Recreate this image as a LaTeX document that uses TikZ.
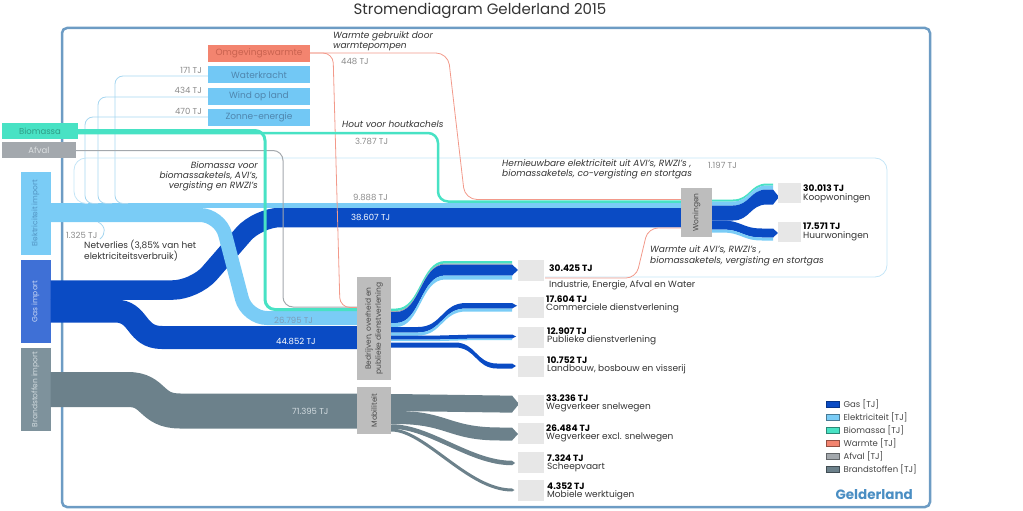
\documentclass[tikz,border=0pt]{standalone}
\usepackage{fontspec}
\setmainfont{Poppins}
\usetikzlibrary{positioning}

\definecolor{gascol}{HTML}{0A4BC4}
\definecolor{gasbox}{HTML}{3F70D6}
\definecolor{gastext}{HTML}{C9D7F4}
\definecolor{eleccol}{HTML}{7ACCF6}
\definecolor{electext}{HTML}{5193C2}
\definecolor{renewcol}{HTML}{72C8F5}
\definecolor{renewtext}{HTML}{4F86AE}
\definecolor{renewline}{HTML}{A6D6F0}
\definecolor{hernieuwline}{HTML}{C4E5F7}
\definecolor{biocol}{HTML}{48E2C4}
\definecolor{biotext}{HTML}{2F9C86}
\definecolor{warmcol}{HTML}{F3846F}
\definecolor{warmtext}{HTML}{C9624F}
\definecolor{warmline}{HTML}{F2998A}
\definecolor{afvalcol}{HTML}{A3A8AD}
\definecolor{afvaltext}{HTML}{DDE0E2}
\definecolor{fuelcol}{HTML}{6C818B}
\definecolor{fuelbox}{HTML}{7E929C}
\definecolor{fueltext}{HTML}{D3DCE0}
\definecolor{nodegray}{HTML}{BDBDBD}
\definecolor{midtextcol}{HTML}{4A4A4A}
\definecolor{sectorgray}{HTML}{E7E7E7}
\definecolor{framecol}{HTML}{6D9CC4}
\definecolor{tjgray}{HTML}{8A8A8A}
\definecolor{tjblue}{HTML}{7C9DB8}
\definecolor{textdark}{HTML}{333333}
\definecolor{legcol}{HTML}{444444}
\definecolor{regiocol}{HTML}{4A8EC3}

\newcommand{\flowband}[9]{%
  \fill[#1] (#2,#6) -- (#3,#6) .. controls ({(#3+#4)/2},#6) and ({(#3+#4)/2},#8) .. (#4,#8) -- (#5,#8)
    -- (#5,#9) -- (#4,#9) .. controls ({(#3+#4)/2},#9) and ({(#3+#4)/2},#7) .. (#3,#7) -- (#2,#7) -- cycle;}
\newcommand{\flowtip}[5]{%
  \fill[#1] (#2,#3) -- ({#2+#5},{(#3+#4)/2}) -- (#2,#4) -- cycle;}

\begin{document}
\begin{tikzpicture}[x=1pt, y=-1pt,
	every node/.style={inner sep=0pt, font=\fontsize{8.5}{10}\selectfont},
	srcbox/.style={rectangle, minimum height=16pt},
	importbox/.style={rectangle, minimum width=30pt, minimum height=83pt},
	importtext/.style={rotate=90, font=\fontsize{7.5}{9}\selectfont},
	renewbox/.style={rectangle, fill=renewcol, text=renewtext, minimum width=102pt, minimum height=17pt, font=\fontsize{9}{10}\selectfont},
	midbox/.style={rectangle, fill=nodegray},
	midtext/.style={rotate=90, text=midtextcol, align=center, font=\fontsize{7.5}{10}\selectfont},
	sectorbox/.style={rectangle, fill=sectorgray, minimum width=26pt, minimum height=21pt},
	woonbox/.style={rectangle, fill=sectorgray, minimum width=23pt, minimum height=20pt},
	tj/.style={text=tjgray},
	note/.style={text=textdark, font=\fontsize{9}{10}\selectfont\itshape, align=left},
	val/.style={anchor=west, text=black, font=\fontsize{9}{10}\selectfont\bfseries, text height=6.5pt, text depth=0pt},
	sectlabel/.style={anchor=west, text=textdark, font=\fontsize{9}{10}\selectfont, text height=6.5pt, text depth=2pt},
	legbox/.style={rectangle, minimum width=13pt, minimum height=6pt, line width=0.8pt},
	legtext/.style={anchor=west, text=legcol, font=\fontsize{8.5}{10}\selectfont},
	gasflow/.style={draw=gascol},
	elecflow/.style={draw=eleccol},
	bioflow/.style={draw=biocol},
	warmflow/.style={draw=warmline, line width=0.8pt},
	afvalflow/.style={draw=afvalcol, line width=1pt},
	fuelflow/.style={draw=fuelcol},
	renewflow/.style={draw=renewline, line width=0.8pt}]

	\useasboundingbox (0,0) rectangle (1023,511);
	\node[font=\fontsize{15}{17}\selectfont, text=textdark] (title) at (480,11) {Stromendiagram Gelderland 2015};
	\draw[framecol, line width=2.5pt, rounded corners=5pt] (62,28) rectangle (930,507);

	\node[srcbox, fill=biocol, text=biotext, minimum width=76pt] (biomassa) at (40,131) {Biomassa};
	\node[srcbox, fill=afvalcol, text=afvaltext, minimum width=74pt] (afval) at (39,150) {Afval};
	\node[importbox, fill=eleccol] (elekimport) at (35.5,213.5) {};
	\node[importtext, text=electext] (elekimporttxt) at (elekimport) {Elektriciteit import};
	\node[importbox, fill=gasbox] (gasimport) at (35.5,301.5) {};
	\node[importtext, text=gastext] (gasimporttxt) at (gasimport) {Gas import};
	\node[importbox, fill=fuelbox] (brandimport) at (35.5,389.5) {};
	\node[importtext, text=fueltext] (brandimporttxt) at (brandimport) {Brandstoffen import};

	\node[renewbox, fill=warmcol, text=warmtext] (omgeving) at (259,53.5) {Omgevingswarmte};
	\node[renewbox] (waterkracht) at (259,75) {Waterkracht};
	\node[renewbox] (windopland) at (259,96.5) {Wind op land};
	\node[renewbox] (zonne) at (259,117.5) {Zonne-energie};
	\node[tj, anchor=east] (tjwater) at (202,70) {171 TJ};
	\node[tj, anchor=east] (tjwind) at (202,90.5) {434 TJ};
	\node[tj, anchor=east] (tjzon) at (202,111.5) {470 TJ};

	\node[midbox, minimum width=31pt, minimum height=49pt] (woningen) at (696.5,212.5) {};
	\node[midbox, minimum width=34pt, minimum height=103pt] (bedrijven) at (374,328.5) {};
	\node[midbox, minimum width=34pt, minimum height=47pt] (mobiliteit) at (374,410.5) {};

	\draw[gasflow, line width=19.5pt, rounded corners=22pt] (gasimport.east |- 0,290) -- (195,290) -- (258,217.5) -- (woningen.west |- 0,217.5);
	\draw[gasflow, line width=23pt] (gasimport.east |- 0,311) -- (115,311) .. controls (140,311) and (135,337.5) .. (162,337.5) -- (bedrijven.west |- 0,337.5);
	\draw[elecflow, line width=14pt, rounded corners=20pt] (elekimport.east |- 0,215) -- (220,215) -- (247,318) -- (bedrijven.west |- 0,318);
	\draw[elecflow, line width=5.5pt] (elekimport.east |- 0,205.5) -- (woningen.west |- 0,205.5);
	\draw[fuelflow, line width=35pt] (brandimport.east |- 0,389.5) -- (128,389.5) .. controls (155,389.5) and (150,411) .. (180,411) -- (mobiliteit.west |- 0,411);

	\draw[renewflow, rounded corners=8pt] (waterkracht.west |- 0,76) -- (115,76) -- (115,203.5) -- (128,203.5);
	\draw[renewflow, rounded corners=8pt] (windopland.west |- 0,97) -- (98,97) -- (98,203.5) -- (112,203.5);
	\draw[renewflow, rounded corners=8pt] (zonne.west |- 0,117) -- (85,117) -- (85,203.5) -- (98,203.5);
	\draw[renewflow, draw=hernieuwline, rounded corners=12pt] (545,277) -- (887,277) -- (887,158) -- (74,158) -- (74,203.5) -- (88,203.5);
	\draw[renewflow] (98,222) .. controls (106,226) and (106,234) .. (100,239);
	\draw[afvalflow, rounded corners=10pt] (afval.east |- 0,150.5) -- (283,150.5) -- (283,307) -- (bedrijven.west |- 0,307);
	\draw[warmflow, rounded corners=10pt] (omgeving.east |- 0,53) -- (333,53) -- (340,307.5) -- (bedrijven.west |- 0,307.5);
	\draw[warmflow, rounded corners=12pt] (omgeving.east |- 0,53) -- (448,53) -- (465,199.5) -- (woningen.west |- 0,199.5);
	\draw[warmflow, rounded corners=10pt] (545,278) -- (636,278) -- (648,228) -- (woningen.west |- 0,228);
	\draw[bioflow, line width=3pt, rounded corners=10pt] (biomassa.east |- 0,130.5) -- (265,130.5) -- (265,309.5) -- (bedrijven.west |- 0,309.5);
	\draw[bioflow, line width=2.5pt, rounded corners=10pt] (biomassa.east |- 0,133) -- (438,133) -- (438,201.5) -- (woningen.west |- 0,201.5);

	\flowband{biocol}{391}{396}{445}{512}{308.5}{311}{261}{263.5}
	\flowband{afvalcol}{391}{396}{445}{512}{311}{312}{263.5}{264.5}
	\flowband{gascol}{391}{396}{445}{512}{312}{323}{264.5}{275.5}
	\flowband{eleccol}{391}{396}{445}{512}{323}{327}{275.5}{279.5}
	\flowtip{gascol}{512}{264.5}{275.5}{6}
	\flowband{gascol}{391}{418}{466}{512}{327}{332.5}{303}{308.5}
	\flowband{eleccol}{391}{418}{466}{512}{332.5}{335.5}{308.5}{311.5}
	\flowtip{gascol}{512}{303}{308.5}{5}
	\flowband{gascol}{391}{440}{476}{512}{335.5}{339.5}{334.5}{338.5}
	\flowband{eleccol}{391}{440}{476}{512}{339.5}{341}{338.5}{340}
	\flowtip{gascol}{512}{334.5}{338.5}{4}
	\flowband{gascol}{391}{455}{497}{512}{342.5}{347.5}{363.5}{368.5}
	\flowtip{gascol}{512}{363.5}{368.5}{4}

	\flowband{fuelcol}{391}{395}{500}{512}{394}{411}{395.5}{412.5}
	\flowtip{fuelcol}{512}{395.5}{412.5}{7}
	\flowband{fuelcol}{391}{396}{500}{512}{411}{424}{427.5}{440.5}
	\flowtip{fuelcol}{512}{427.5}{440.5}{6}
	\draw[fuelflow, line width=4.5pt] (mobiliteit.east |- 0,426.5) .. controls (430,426.5) and (470,463) .. (512,463);
	\flowtip{fuelcol}{512}{460.75}{465.25}{3}
	\draw[fuelflow, line width=3pt] (mobiliteit.east |- 0,430) .. controls (425,430) and (468,490) .. (512,490);
	\flowtip{fuelcol}{512}{488.5}{491.5}{2.5}

	\flowband{biocol}{712}{733}{767}{773}{199.5}{201.5}{183.5}{185.5}
	\flowband{eleccol}{712}{733}{767}{773}{201.5}{205.5}{185.5}{189.5}
	\flowband{gascol}{712}{733}{767}{773}{205.5}{220.5}{189.5}{204.5}
	\flowtip{gascol}{773}{189.5}{204.5}{6}
	\flowband{gascol}{712}{722}{762}{773}{220.5}{229.5}{228.5}{237.5}
	\flowband{eleccol}{712}{722}{762}{773}{229.5}{232.5}{237.5}{240.5}
	\flowtip{gascol}{773}{228.5}{237.5}{5}

	\node[midtext] (woningentxt) at (woningen) {Woningen};
	\node[midtext] (bedrijventxt) at (bedrijven) {Bedrijven, overheid en\\publieke dienstverlening};
	\node[midtext] (mobiliteittxt) at (mobiliteit) {Mobiliteit};

	\node[note, anchor=north west] (warmtepompen) at (333,31.5) {Warmte gebruikt door\\warmtepompen};
	\node[tj, anchor=west] (tjwarmte) at (341,61) {448 TJ};
	\node[note, anchor=west] (houtkachels) at (342,124) {Hout voor houtkachels};
	\node[tj, anchor=west] (tjhout) at (355,141) {3.787 TJ};
	\node[note, anchor=north east, align=right] (biomassavoor) at (258,161.5) {Biomassa voor\\biomassaketels, AVI's,\\vergisting en RWZI's};
	\node[tj, anchor=west] (tjelekwoning) at (353,197) {9.888 TJ};
	\node[text=white, anchor=west] (tjgaswoning) at (351,217) {38.607 TJ};
	\node[tj, anchor=west] (tjnetverlies) at (66,235) {1.325 TJ};
	\node[anchor=north west, align=left, text=textdark, font=\fontsize{9}{10}\selectfont] (netverlies) at (84,239.5) {Netverlies (3,85\% van het\\elektriciteitsverbruik)};
	\node[text=tjblue, anchor=west] (tjelekbedrijf) at (274,320) {26.795 TJ};
	\node[text=white, anchor=west] (tjgasbedrijf) at (276,341) {44.852 TJ};
	\node[text=fueltext, anchor=west] (tjbrandstof) at (292,411) {71.395 TJ};
	\node[note, anchor=north west] (hernieuwbaar) at (502,159.5) {Hernieuwbare elektriciteit uit AVI's, RWZI's ,\\biomassaketels, co-vergisting en stortgas};
	\node[tj, anchor=west] (tjhernieuwbaar) at (708,165) {1.197 TJ};
	\node[note, anchor=north west, font=\fontsize{9}{11}\selectfont\itshape] (warmteuit) at (650,245) {Warmte uit AVI's, RWZI's ,\\biomassaketels, vergisting en stortgas};

	\node[woonbox] (koop) at (789.5,193) {};
	\node[val] (koopval) at (803,188.5) {30.013 TJ};
	\node[sectlabel] (kooptxt) at (803,198) {Koopwoningen};
	\node[woonbox] (huur) at (789.5,232) {};
	\node[val] (huurval) at (803,226.5) {17.571 TJ};
	\node[sectlabel] (huurtxt) at (803,236) {Huurwoningen};

	\node[sectorbox] (industrie) at (531,270.5) {};
	\node[val] (industrieval) at (549,268) {30.425 TJ};
	\node[sectlabel] (industrietxt) at (549,285) {Industrie, Energie, Afval en Water};
	\node[sectorbox] (commercieel) at (531,307.5) {};
	\node[val] (commercieelval) at (546,299.5) {17.604 TJ};
	\node[sectlabel] (commercieeltxt) at (546,308.5) {Commerciele dienstverlening};
	\node[sectorbox] (publiek) at (531,337.5) {};
	\node[val] (publiekval) at (547,331.5) {12.907 TJ};
	\node[sectlabel] (publiektxt) at (547,340.5) {Publieke dienstverlening};
	\node[sectorbox] (landbouw) at (531,366.5) {};
	\node[val] (landbouwval) at (547,360.5) {10.752 TJ};
	\node[sectlabel] (landbouwtxt) at (547,369.5) {Landbouw, bosbouw en visserij};
	\node[sectorbox] (snelwegen) at (531,405) {};
	\node[val] (snelwegenval) at (546,398.5) {33.236 TJ};
	\node[sectlabel] (snelwegentxt) at (546,407.5) {Wegverkeer snelwegen};
	\node[sectorbox] (wegverkeer) at (531,433.5) {};
	\node[val] (wegverkeerval) at (546,428) {26.484 TJ};
	\node[sectlabel] (wegverkeertxt) at (546,437) {Wegverkeer excl. snelwegen};
	\node[sectorbox] (scheepvaart) at (531,462.5) {};
	\node[val] (scheepvaartval) at (547,458.5) {7.324 TJ};
	\node[sectlabel] (scheepvaarttxt) at (547,467.5) {Scheepvaart};
	\node[sectorbox] (werktuigen) at (531,490.5) {};
	\node[val] (werktuigenval) at (547,486) {4.352 TJ};
	\node[sectlabel] (werktuigentxt) at (547,495) {Mobiele werktuigen};

	\node[legbox, fill=gascol, draw=gascol!70!black] (leggas) at (832.5,404) {};
	\node[legtext, right=4pt of leggas] (leggastxt) {Gas [TJ]};
	\node[legbox, fill=eleccol, draw=eleccol!60!black] (legelek) at (832.5,417.5) {};
	\node[legtext, right=4pt of legelek] (legelektxt) {Elektriciteit [TJ]};
	\node[legbox, fill=biocol, draw=biocol!60!black] (legbio) at (832.5,430.5) {};
	\node[legtext, right=4pt of legbio] (legbiotxt) {Biomassa [TJ]};
	\node[legbox, fill=warmcol, draw=warmcol!60!black] (legwarm) at (832.5,443.5) {};
	\node[legtext, right=4pt of legwarm] (legwarmtxt) {Warmte [TJ]};
	\node[legbox, fill=afvalcol, draw=afvalcol!60!black] (legafval) at (832.5,456.5) {};
	\node[legtext, right=4pt of legafval] (legafvaltxt) {Afval [TJ]};
	\node[legbox, fill=fuelcol, draw=fuelcol!60!black] (legbrand) at (832.5,469.5) {};
	\node[legtext, right=4pt of legbrand] (legbrandtxt) {Brandstoffen [TJ]};
	\node[text=regiocol, anchor=east, font=\fontsize{13.5}{15}\selectfont\bfseries] (regio) at (913,495) {Gelderland};
\end{tikzpicture}
\end{document}
